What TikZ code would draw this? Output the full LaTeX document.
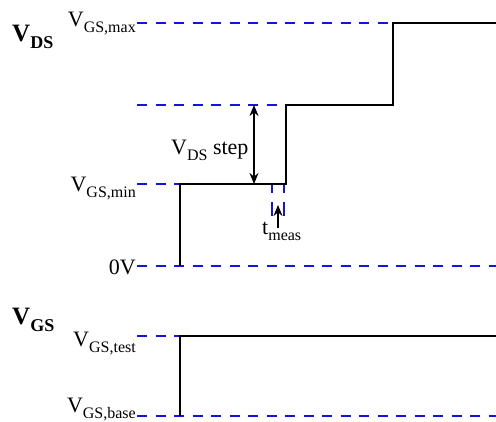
\documentclass[tikz,border=0pt]{standalone}
\usepackage{fontspec}
\setmainfont{Liberation Serif}
\usetikzlibrary{arrows.meta}
\definecolor{dashblue}{RGB}{20,20,220}
\newcommand{\sublab}[2]{#1\raisebox{-6pt}{\fontsize{16}{16}\selectfont #2}}
\newcommand{\bsublab}[2]{\textbf{#1\raisebox{-7pt}{\fontsize{18}{18}\selectfont #2}}}
\begin{document}
\begin{tikzpicture}[x=1pt,y=-1pt,font=\fontsize{22}{24}\selectfont,
  sig/.style={line width=2.2pt,black,line join=miter},
  refline/.style={dashblue,line width=2.5pt,dash pattern=on 10pt off 8.5pt},
  lab/.style={inner sep=0pt,anchor=base east},
  tip/.style={-{Stealth[length=11pt,width=9pt]},line width=2.2pt}]
\useasboundingbox (0,0) rectangle (496,422);
% labels
\node[inner sep=0pt,anchor=base west] (vds) at (12,42) {\fontsize{25}{27}\selectfont\bsublab{V}{DS}};
\node[inner sep=0pt,anchor=base west] (vgs) at (12,325) {\fontsize{25}{27}\selectfont\bsublab{V}{GS}};
\node[lab] (lmax) at (136,27) {\sublab{V}{GS,max}};
\node[lab] (lmin) at (136,192) {\sublab{V}{GS,min}};
\node[lab] (lzero) at (136,275) {0V};
\node[lab] (ltest) at (136,347) {\sublab{V}{GS,test}};
\node[lab] (lbase) at (136,413) {\sublab{V}{GS,base}};
\node[inner sep=0pt,anchor=base west] (lstep) at (171,155) {\sublab{V}{DS} step};
\node[inner sep=0pt,anchor=base west] (lmeas) at (262,235) {\sublab{t}{meas}};
% coordinates
\coordinate (smax) at (137,23);
\coordinate (smid) at (137,105);
\coordinate (smin) at (137,184);
\coordinate (szero) at (137,266);
\coordinate (stest) at (137,336);
\coordinate (sbase) at (137,416);
\coordinate (a0) at (180,266);
\coordinate (a1) at (180,184);
\coordinate (a2) at (286,184);
\coordinate (a3) at (286,105);
\coordinate (a4) at (393,105);
\coordinate (a5) at (393,23);
\coordinate (a6) at (496,23);
\coordinate (zend) at (496,266);
\coordinate (g0) at (180,416);
\coordinate (g1) at (180,336);
\coordinate (g2) at (496,336);
\coordinate (bend) at (496,416);
\coordinate (stTop) at (254,105);
\coordinate (stBot) at (254,184);
\coordinate (m1a) at (272,185);
\coordinate (m1b) at (272,216);
\coordinate (m2a) at (284,185);
\coordinate (m2b) at (284,216);
\coordinate (mArrS) at (278,228);
\coordinate (mArrE) at (278,205);
% reference dashed lines
\draw[refline] (smax) -- (a5);
\draw[refline] (smid) -- (a3);
\draw[refline] (smin) -- (a1);
\draw[refline] (szero) -- (zend);
\draw[refline] (stest) -- (g1);
\draw[refline] (sbase) -- (bend);
% signals
\draw[sig] (a0) -- (a1) -- (a2) -- (a3) -- (a4) -- (a5) -- (a6);
\draw[sig] (g0) -- (g1) -- (g2);
% step arrow
\draw[{Stealth[length=11pt,width=9pt]}-{Stealth[length=11pt,width=9pt]},line width=2.2pt] (stTop) -- (stBot);
% t_meas
\draw[dashblue,line width=2.5pt,dash pattern=on 8pt off 9pt on 14pt off 9pt] (m1a) -- (m1b);
\draw[dashblue,line width=2.5pt,dash pattern=on 8pt off 9pt on 14pt off 9pt] (m2a) -- (m2b);
\draw[tip] (mArrS) -- (mArrE);
\end{tikzpicture}
\end{document}
